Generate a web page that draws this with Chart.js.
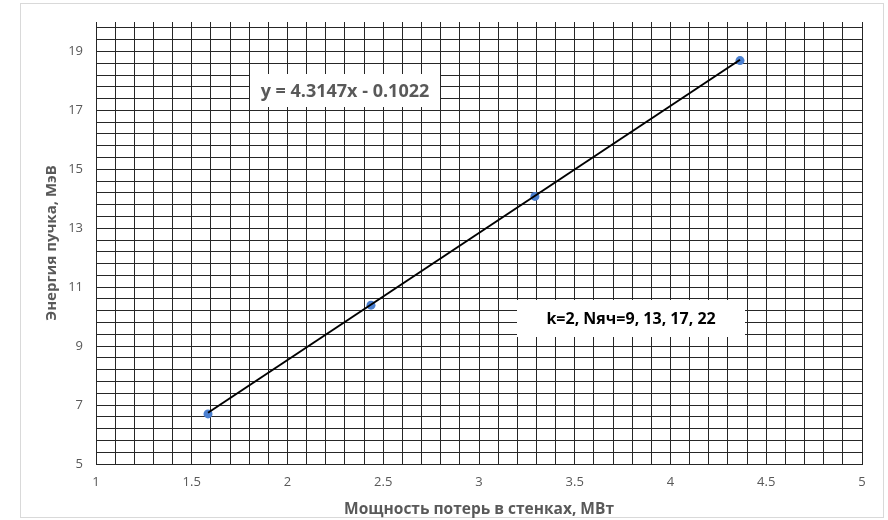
<!DOCTYPE html>
<html lang="ru">
<head>
<meta charset="utf-8">
<title>Энергия пучка</title>
<script src="https://cdn.jsdelivr.net/npm/chart.js@4.4.1/dist/chart.umd.min.js"></script>
<style>
  html, body { margin: 0; padding: 0; background: #fff; }
  canvas { display: block; }
</style>
</head>
<body>
<canvas id="my-chart" width="888" height="520"></canvas>
<script>
'use strict';

// ***************** DATA ***************** //

let powerMW = [1.585, 2.436, 3.292, 4.363];
let energyMeV = [6.70, 10.39, 14.08, 18.69];

// trendline ends
let trendX = [1.585, 4.363];
let trendY = [6.74, 18.72];

let xTickLabels = [1, 1.5, 2, 2.5, 3, 3.5, 4, 4.5, 5];
let yTickLabels = [5, 7, 9, 11, 13, 15, 17, 19];

let trendText = 'y = 4.3147x - 0.1022';
let noteText = 'k=2, Nяч=9, 13, 17, 22';

// ***************** SETTINGS ***************** //

let fontName = '"Open Sans", "DejaVu Sans", sans-serif';
let greyText = '#595959';
let gridColor = '#262626';

let xMin = 1, xMax = 5, xStep = 0.1;
let yMin = 5, yMax = 20, yStep = 0.4;

function makeTicks(min, max, step) {
  let list = [];
  let n = Math.floor((max - min) / step + 1e-6);
  for (let i = 0; i <= n; i++) {
    list.push({ value: Math.round((min + i * step) * 1000) / 1000 });
  }
  if (list[list.length - 1].value < max) {
    list.push({ value: max });
  }
  return list;
}

function hasLabel(labels, value) {
  return labels.some(l => Math.abs(l - value) < 1e-6);
}

// ***************** PLUGINS ***************** //

let frame = {
  id: 'frame',
  beforeDraw(chart) {
    let c = chart.ctx;
    c.save();
    c.fillStyle = '#ffffff';
    c.fillRect(0, 0, chart.width, chart.height);
    c.strokeStyle = '#d9d9d9';
    c.lineWidth = 1;
    c.strokeRect(20.5, 3.5, 863, 514);
    c.restore();
  }
};

let notes = [
  { text: trendText, x: 2.30, y: 17.66, w: 190, h: 33, color: greyText, size: 18 },
  { text: noteText, x: 3.794, y: 9.93, w: 228, h: 37, color: '#000000', size: 16 }
];

let noteBoxes = {
  id: 'noteBoxes',
  afterDatasetsDraw(chart) {
    let c = chart.ctx;
    let sx = chart.scales.x;
    let sy = chart.scales.y;
    c.save();
    notes.forEach(n => {
      let px = sx.getPixelForValue(n.x);
      let py = sy.getPixelForValue(n.y);
      c.fillStyle = '#ffffff';
      c.fillRect(Math.round(px - n.w / 2), Math.round(py - n.h / 2), n.w, n.h);
      c.fillStyle = n.color;
      c.font = 'bold ' + n.size + 'px ' + fontName;
      c.textAlign = 'center';
      c.textBaseline = 'middle';
      c.fillText(n.text, px, py + 1);
    });
    c.restore();
  }
};

// ***************** CHART ***************** //

let ctx = document.getElementById('my-chart').getContext('2d');

let myChart = new Chart(ctx, {
  type: 'scatter',
  data: {
    datasets: [{
      label: 'Тренд',
      data: trendX.map((x, i) => ({ x: x, y: trendY[i] })),
      showLine: true,
      borderColor: '#000000',
      borderWidth: 2,
      pointRadius: 0,
      order: 1
    },
    {
      label: 'Энергия',
      data: powerMW.map((x, i) => ({ x: x, y: energyMeV[i] })),
      backgroundColor: '#4a7fd0',
      borderColor: '#4a7fd0',
      borderWidth: 0,
      pointRadius: 4.5,
      order: 2
    }]
  },
  options: {
    responsive: false,
    animation: false,
    layout: {
      padding: { top: 22, right: 26, bottom: 0, left: 0 }
    },
    plugins: {
      legend: { display: false },
      tooltip: { enabled: false }
    },
    scales: {
      x: {
        type: 'linear',
        min: xMin,
        max: xMax,
        afterBuildTicks: (scale) => { scale.ticks = makeTicks(xMin, xMax, xStep); },
        afterFit: (scale) => { scale.height = 56; },
        grid: {
          color: gridColor,
          lineWidth: 1,
          drawTicks: false
        },
        border: { color: gridColor },
        ticks: {
          autoSkip: false,
          maxRotation: 0,
          padding: 10,
          color: greyText,
          font: { family: fontName, size: 13 },
          callback: (v) => hasLabel(xTickLabels, v) ? String(Math.round(v * 10) / 10) : ''
        },
        title: {
          display: true,
          text: 'Мощность потерь в стенках, МВт',
          color: greyText,
          font: { family: fontName, size: 15.5, weight: 'bold' },
          padding: { top: 0, bottom: 1 }
        }
      },
      y: {
        type: 'linear',
        min: yMin,
        max: yMax,
        afterBuildTicks: (scale) => { scale.ticks = makeTicks(yMin, yMax, yStep); },
        afterFit: (scale) => { scale.width = 96; },
        grid: {
          color: (c) => (c.tick && c.tick.value >= yMax) ? 'rgba(0,0,0,0)' : gridColor,
          lineWidth: 1,
          drawTicks: false
        },
        border: { color: gridColor },
        ticks: {
          autoSkip: false,
          padding: 13,
          color: greyText,
          font: { family: fontName, size: 13 },
          callback: (v) => hasLabel(yTickLabels, v) ? String(Math.round(v)) : ''
        },
        title: {
          display: true,
          text: 'Энергия пучка, МэВ',
          color: greyText,
          font: { family: fontName, size: 15, weight: 'bold' },
          padding: { top: 43, bottom: 0 }
        }
      }
    }
  },
  plugins: [frame, noteBoxes]
});
</script>
</body>
</html>
